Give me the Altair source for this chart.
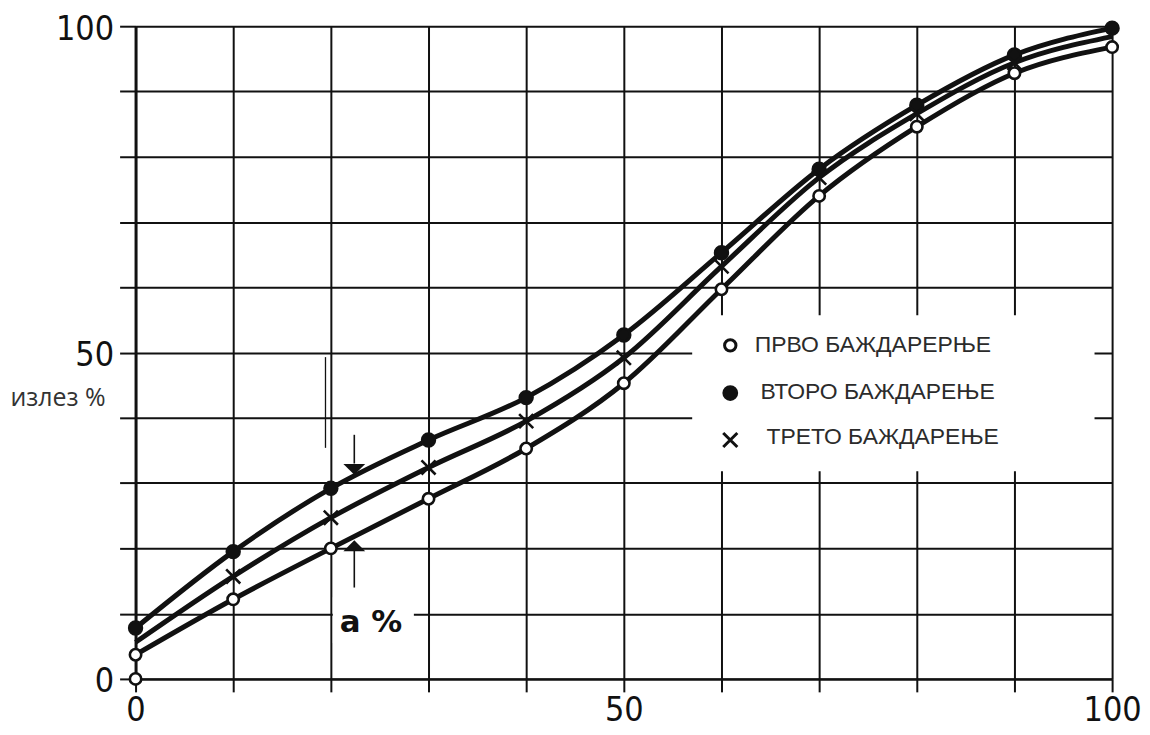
import altair as alt
import pandas as pd

# ---------------- data ----------------
x_vals = [0, 10, 20, 30, 40, 50, 60, 70, 80, 90, 100]
prvo = [3.7, 12.2, 20.0, 27.6, 35.3, 45.3, 59.7, 74.0, 84.6, 92.8, 96.8]
vtoro = [7.8, 19.5, 29.2, 36.6, 43.1, 52.7, 65.3, 78.1, 87.9, 95.6, 99.7]
treto = [5.6, 15.7, 24.7, 32.4, 39.5, 49.2, 63.2, 76.8, 86.6, 94.4, 98.4]
treto_marker_x = [10, 20, 30, 40, 50, 60, 70, 80, 90]
origin_x = [0]
origin_y = [0]

series_names = ["ПРВО БАЖДАРЕРЊЕ", "ВТОРО БАЖДАРЕЊЕ", "ТРЕТО БАЖДАРЕЊЕ"]
tick_values = [0, 10, 20, 30, 40, 50, 60, 70, 80, 90, 100]
y_title = "излез %"
note_text = "a %"

# ---------------- tables ----------------
rows = []
for name, ys in zip(series_names, [prvo, vtoro, treto]):
    for xv, yv in zip(x_vals, ys):
        rows.append({"series": name, "x": xv, "y": yv})
lines_df = pd.DataFrame(rows)

mrows = []
for xv, yv in zip(x_vals, prvo):
    mrows.append({"series": series_names[0], "x": xv, "y": yv})
for xv, yv in zip(origin_x, origin_y):
    mrows.append({"series": series_names[0], "x": xv, "y": yv})
for xv, yv in zip(x_vals, vtoro):
    mrows.append({"series": series_names[1], "x": xv, "y": yv})
for xv, yv in zip(x_vals, treto):
    if xv in treto_marker_x:
        mrows.append({"series": series_names[2], "x": xv, "y": yv})
markers_df = pd.DataFrame(mrows)

# layout of the in-plot legend (data units)
LEG_SYM_X = 60.9
LEG_SYM_Y = [51.1, 43.8, 36.6]
LEG_TXT_X = [63.4, 64.0, 64.6]
LEG_TXT_Y = [51.1, 44.0, 37.0]
legend_df = pd.DataFrame({
    "series": series_names,
    "x": [LEG_SYM_X] * 3,
    "y": LEG_SYM_Y,
    "tx": LEG_TXT_X,
    "ty": LEG_TXT_Y,
})

X_PATH = "M-1,-1L1,1M-1,1L1,-1"
TRI_DOWN = "M-1,-0.5L1,-0.5L0,0.5Z"
TRI_UP = "M-1,0.5L1,0.5L0,-0.5Z"

INK = "#111111"
NUM_FONT = "DejaVu Sans Condensed, Liberation Sans Narrow, sans-serif"

SX = alt.Scale(domain=[0, 100], nice=False, zero=False)
SY = alt.Scale(domain=[0, 100], nice=False, zero=False)

AX = alt.Axis(
    values=tick_values,
    labelExpr="datum.value % 50 == 0 ? datum.label : ''",
    grid=True, gridColor=INK, gridWidth=2,
    tickColor=INK, tickWidth=2, tickSize=13,
    domainColor=INK, domainWidth=2.4,
    labelFont=NUM_FONT, labelFontSize=34, labelColor="#111111",
    labelPadding=2, labelFlush=False, labelOverlap=False,
)
AY = alt.Axis(
    values=tick_values,
    labelExpr="datum.value % 50 == 0 ? datum.label : ''",
    grid=True, gridColor=INK, gridWidth=2,
    tickColor=INK, tickWidth=2, tickSize=16,
    domainColor=INK, domainWidth=3,
    labelFont=NUM_FONT, labelFontSize=34, labelColor="#111111",
    labelPadding=6, labelOffset=3, labelFlush=False, labelOverlap=False,
    labelBaseline="middle",
    title=y_title, titleAngle=0, titleAlign="left", titleBaseline="middle",
    titleX=-126, titleY=373, titleFont="Open Sans", titleFontSize=25,
    titleFontWeight="normal", titleColor="#333333",
)


def X(field="x"):
    return alt.X(f"{field}:Q", scale=SX, axis=AX, title=None)


def Y(field="y"):
    return alt.Y(f"{field}:Q", scale=SY, axis=AY)


# white boxes hiding the grid behind the legend and the "a %" note
boxes_df = pd.DataFrame({"x": [57.0, 20.2], "x2": [98.2, 28.5],
                         "y": [31.8, 5.5], "y2": [55.7, 12.5]})
boxes = alt.Chart(boxes_df).mark_rect(fill="white").encode(
    x=X(), x2="x2:Q", y=Y(), y2="y2:Q")

# arrow shafts and heads marking the spread a %
shaft_df = pd.DataFrame({"x": [22.4, 22.4], "y": [33.0, 14.0], "y2": [37.4, 19.6]})
shafts = alt.Chart(shaft_df).mark_rule(color=INK, strokeWidth=1.6).encode(
    x=X(), y=Y(), y2="y2:Q")
head_dn_df = pd.DataFrame({"x": [22.4], "y": [32.1]})
head_up_df = pd.DataFrame({"x": [22.4], "y": [20.4]})
head_dn = alt.Chart(head_dn_df).mark_point(
    filled=True, opacity=1, color=INK, size=480, shape=TRI_DOWN).encode(x=X(), y=Y())
head_up = alt.Chart(head_up_df).mark_point(
    filled=True, opacity=1, color=INK, size=480, shape=TRI_UP).encode(x=X(), y=Y())

# scan artefact: thin offset stroke next to the x=20 grid line
artefact_df = pd.DataFrame({"x": [19.45], "y": [35.4], "y2": [49.3]})
artefact = alt.Chart(artefact_df).mark_rule(color=INK, strokeWidth=1.3).encode(
    x=X(), y=Y(), y2="y2:Q")

lines = alt.Chart(lines_df).mark_line(interpolate="monotone", color=INK).encode(
    x=X(), y=Y(),
    strokeWidth=alt.StrokeWidth("series:N",
                                scale=alt.Scale(domain=series_names, range=[5, 5, 2.2]),
                                legend=None),
    order="x:Q",
)

shape_scale = alt.Scale(domain=series_names, range=["circle", "circle", X_PATH])
fill_scale = alt.Scale(domain=series_names, range=["white", INK, "transparent"])
size_scale = alt.Scale(domain=series_names, range=[130, 200, 120])

markers = alt.Chart(markers_df).mark_point(opacity=1, stroke=INK, strokeWidth=2.6).encode(
    x=X(), y=Y(),
    shape=alt.Shape("series:N", scale=shape_scale, legend=None),
    fill=alt.Fill("series:N", scale=fill_scale, legend=None),
    size=alt.Size("series:N", scale=size_scale, legend=None),
)

leg_sym = alt.Chart(legend_df).mark_point(opacity=1, stroke=INK, strokeWidth=3).encode(
    x=X(), y=Y(),
    shape=alt.Shape("series:N", scale=shape_scale, legend=None),
    fill=alt.Fill("series:N", scale=fill_scale, legend=None),
    size=alt.Size("series:N", scale=size_scale, legend=None),
)
leg_txt = alt.Chart(legend_df).mark_text(
    align="left", baseline="middle", font="Liberation Sans", fontSize=23, color="#2b2b2b"
).encode(x=X("tx"), y=Y("ty"), text="series:N")

note_df = pd.DataFrame({"x": [24.1], "y": [7.2], "t": [note_text]})
note = alt.Chart(note_df).mark_text(
    align="center", baseline="alphabetic", font="DejaVu Sans", fontSize=31,
    fontWeight="bold", color=INK
).encode(x=X(), y=Y(), text="t:N")

chart = alt.layer(
    boxes, artefact, shafts, head_dn, head_up, lines, markers, leg_sym, leg_txt, note
).properties(
    width=980, height=655,
    autosize=alt.AutoSizeParams(type="none"),
    padding={"left": 128, "top": 17, "right": 30, "bottom": 50},
    background="white",
).configure_view(strokeWidth=0)

chart.save("out.html", embed_options={"renderer": "svg", "actions": False})
